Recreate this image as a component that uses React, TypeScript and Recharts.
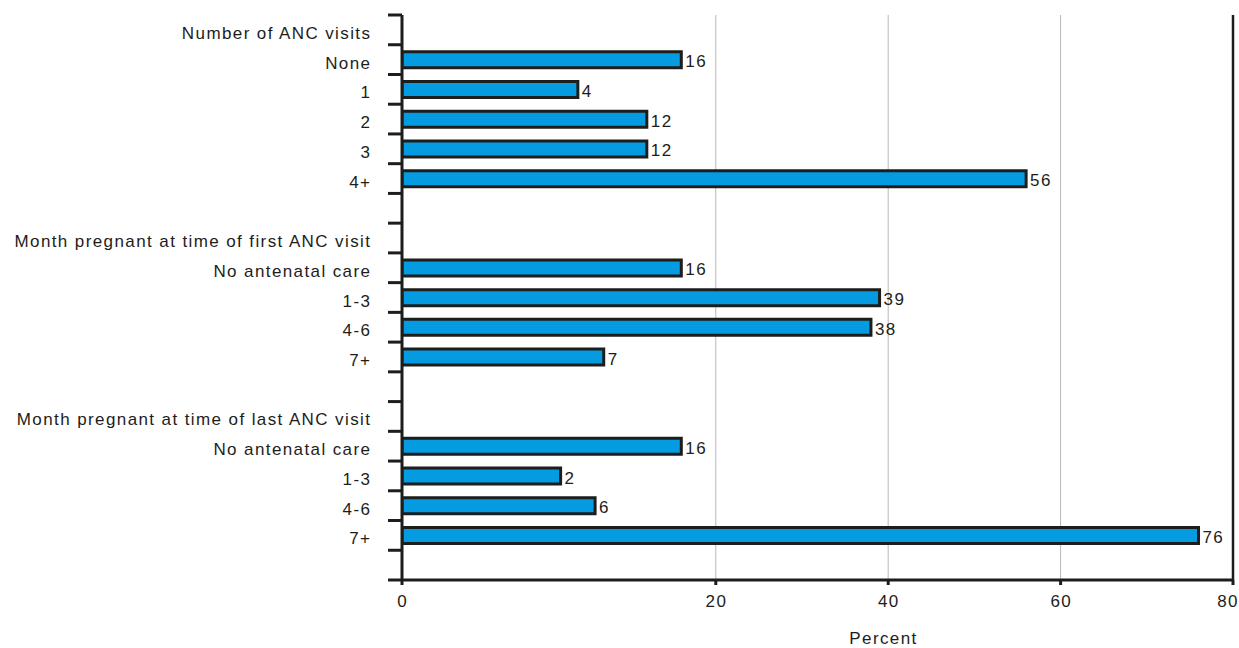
import React from 'react';
import { BarChart, Bar, XAxis, YAxis, CartesianGrid, LabelList, ReferenceLine } from 'recharts';

// Row labels, top to bottom (group headings and blank spacer rows included)
const categories = [
  'Number of ANC visits',
  'None',
  '1',
  '2',
  '3',
  '4+',
  '',
  'Month pregnant at time of first ANC visit',
  'No antenatal care',
  '1-3',
  '4-6',
  '7+',
  '',
  'Month pregnant at time of last ANC visit',
  'No antenatal care',
  '1-3',
  '4-6',
  '7+',
  '',
];

// Percent values (null = heading / spacer row)
const percents: (number | null)[] = [
  null, 16, 4, 12, 12, 56, null,
  null, 16, 39, 38, 7, null,
  null, 16, 2, 6, 76, null,
];

const xTickValues = [0, 20, 40, 60, 80];
const X_MAX = 80;
// The source chart's scale starts left of zero; its left edge is labelled "0".
const AXIS_START = -16.4;

const INK = '#1d1d1b';
const BAR_FILL = '#049be0';
const GRID = '#b8b8b8';
const FONT = '"Liberation Sans", Arial, Helvetica, sans-serif';
const FS = 17;
const LS = 1.4;

const WIDTH = 1239;
const HEIGHT = 648;
const MARGIN = { top: 15, right: 6, bottom: 0, left: 0 };
const Y_AXIS_W = 402;
const X_AXIS_H = 68;
const PLOT_H = HEIGHT - MARGIN.top - MARGIN.bottom - X_AXIS_H;

const data = categories.map((label, i) => ({
  label,
  value: percents[i],
  span: percents[i] == null ? null : [AXIS_START, percents[i] as number],
}));

const xTicks = xTickValues.map((v) => (v === 0 ? AXIS_START : v));

const YTick = (props: any) => {
  const { x, y, index } = props;
  const axisX = x + 14 + 18;
  const half = PLOT_H / categories.length / 2;
  const isLast = index === categories.length - 1;
  return (
    <g>
      <line x1={axisX - 14} x2={axisX} y1={y - half} y2={y - half} stroke={INK} strokeWidth={3} />
      {isLast && (
        <line x1={axisX - 14} x2={axisX} y1={y + half} y2={y + half} stroke={INK} strokeWidth={3} />
      )}
      <text
        x={x + LS}
        y={y}
        dy={9}
        textAnchor="end"
        fontSize={FS}
        fill={INK}
        fontFamily={FONT}
        letterSpacing={LS}
      >
        {categories[index]}
      </text>
    </g>
  );
};

const XTick = (props: any) => {
  const { x, y, payload } = props;
  const v = payload.value;
  const label = v === AXIS_START ? '0' : String(v);
  const shift = v === X_MAX ? -5 : LS / 2;
  return (
    <text
      x={x + shift}
      y={y}
      dy={13}
      textAnchor="middle"
      fontSize={FS}
      fill={INK}
      fontFamily={FONT}
      letterSpacing={LS}
    >
      {label}
    </text>
  );
};

const ValueLabel = (props: any) => {
  const { x, y, width, height, value } = props;
  if (value == null) return null;
  return (
    <text
      x={x + width + 4}
      y={y + height / 2}
      dy={7.5}
      fontSize={FS}
      fill={INK}
      fontFamily={FONT}
      letterSpacing={LS}
    >
      {value}
    </text>
  );
};

const XTitle = (props: any) => {
  const { viewBox } = props;
  const cx = viewBox.x + viewBox.width / 2 + 66;
  const by = viewBox.y + viewBox.height - 4;
  return (
    <text
      x={cx}
      y={by}
      textAnchor="middle"
      fontSize={FS}
      fill={INK}
      fontFamily={FONT}
      letterSpacing={LS}
    >
      Percent
    </text>
  );
};

export default function App() {
  return (
    <div style={{ position: 'absolute', left: 0, top: 0, width: WIDTH, height: HEIGHT, background: '#fff' }}>
      <BarChart
        width={WIDTH}
        height={HEIGHT}
        data={data}
        layout="vertical"
        margin={MARGIN}
      >
        <CartesianGrid horizontal={false} vertical stroke={GRID} strokeWidth={1} xAxisId={0} />
        <XAxis
          xAxisId={0}
          type="number"
          domain={[AXIS_START, X_MAX]}
          allowDataOverflow
          ticks={xTicks}
          interval={0}
          height={X_AXIS_H}
          axisLine={{ stroke: INK, strokeWidth: 3 }}
          tickLine={{ stroke: INK, strokeWidth: 3 }}
          tickSize={5}
          tickMargin={9}
          tick={<XTick />}
          label={<XTitle />}
        />
        <XAxis
          xAxisId="top"
          orientation="top"
          type="number"
          domain={[AXIS_START, X_MAX]}
          allowDataOverflow
          height={0}
          tick={false}
          tickLine={false}
          axisLine={{ stroke: INK, strokeWidth: 3 }}
        />
        <YAxis
          type="category"
          dataKey="label"
          width={Y_AXIS_W}
          interval={0}
          tickSize={14}
          tickMargin={18}
          tickLine={false}
          axisLine={{ stroke: INK, strokeWidth: 3 }}
          tick={<YTick />}
        />
        <ReferenceLine xAxisId={0} x={X_MAX} stroke={INK} strokeWidth={2.5} />
        <Bar
          xAxisId={0}
          dataKey="span"
          fill={BAR_FILL}
          stroke={INK}
          strokeWidth={3}
          barSize={16}
          isAnimationActive={false}
        >
          <LabelList dataKey="value" content={<ValueLabel />} />
        </Bar>
      </BarChart>
    </div>
  );
}
